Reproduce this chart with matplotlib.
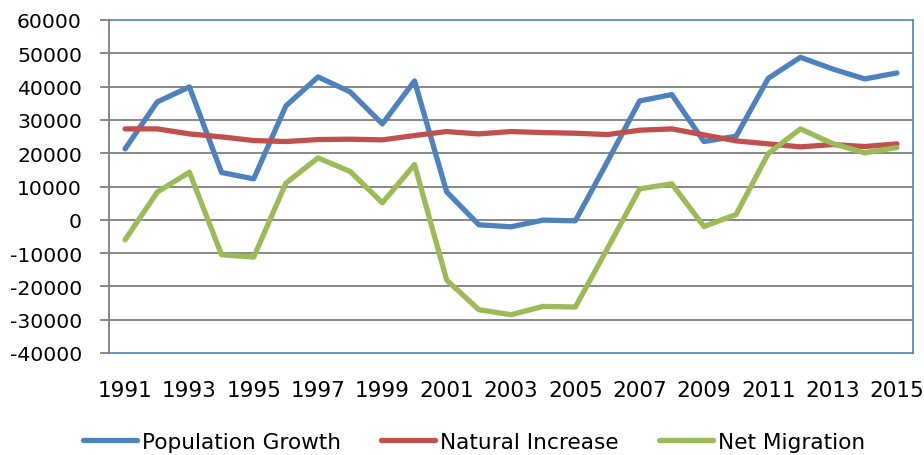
import numpy as np
import matplotlib
matplotlib.use('Agg')
import matplotlib.pyplot as plt

years = list(range(1991, 2016))
population_growth = [21300, 35400, 39900, 14200, 12300, 34200, 42900, 38400, 28800, 41700,
                     8400, -1500, -2100, -100, -300, 17500, 35700, 37600, 23500, 25100,
                     42500, 48800, 45300, 42300, 44100]
natural_increase = [27300, 27300, 25800, 24900, 23800, 23500, 24100, 24200, 24000, 25300,
                    26500, 25800, 26500, 26200, 26000, 25600, 26900, 27300, 25500, 23700,
                    22800, 21900, 22600, 22000, 22800]
net_migration = [-6000, 8300, 14300, -10500, -11200, 11000, 18600, 14500, 5100, 16600,
                 -18100, -27000, -28500, -26000, -26200, -8600, 9300, 10800, -2000, 1600,
                 19900, 27300, 22900, 20100, 21700]
y_ticks = list(range(-40000, 60001, 10000))

COLORS = {
    'pop': '#4F81BD',
    'nat': '#C0504D',
    'mig': '#9BBB59',
}
GRID = '#878787'

fig = plt.figure(figsize=(9.24, 4.56), dpi=100)
ax = fig.add_axes([109 / 924, 1 - 354 / 456, (913 - 109) / 924, (354 - 21) / 456])

xs = np.arange(len(years))
style = dict(linewidth=3.8, solid_capstyle='round', solid_joinstyle='round')
ax.plot(xs, population_growth, color=COLORS['pop'], label='Population Growth', **style)
ax.plot(xs, natural_increase, color=COLORS['nat'], label='Natural Increase', **style)
ax.plot(xs, net_migration, color=COLORS['mig'], label='Net Migration', **style)

ax.set_xlim(-0.5, len(years) - 0.5)
ax.set_ylim(-40000, 60000)
ax.set_yticks(y_ticks)
ax.set_yticklabels([str(v) for v in y_ticks])
ax.set_xticks(xs[::2])
ax.set_xticklabels([str(y) for y in years[::2]])

for v in y_ticks[1:-1]:
    ax.axhline(v, color=GRID, linewidth=1.4, zorder=0)

for s in ['top', 'right', 'bottom']:
    ax.spines[s].set_color(COLORS['pop'])
    ax.spines[s].set_linewidth(1.2)
ax.spines['left'].set_color(GRID)
ax.spines['left'].set_linewidth(1.4)

ax.tick_params(axis='y', length=6.5, width=1.4, color=GRID, pad=13, labelsize=14.7)
ax.tick_params(axis='x', length=0, pad=19.5, labelsize=15.5)

leg = fig.legend(loc='center', bbox_to_anchor=(474 / 924, 1 - 443 / 456), ncol=3, frameon=False,
                 borderpad=0, handlelength=2.5, handletextpad=0.22, columnspacing=1.85,
                 prop={'size': 15.6})
for line in leg.get_lines():
    line.set_linewidth(3.8)

fig.savefig('out.png', dpi=100)
